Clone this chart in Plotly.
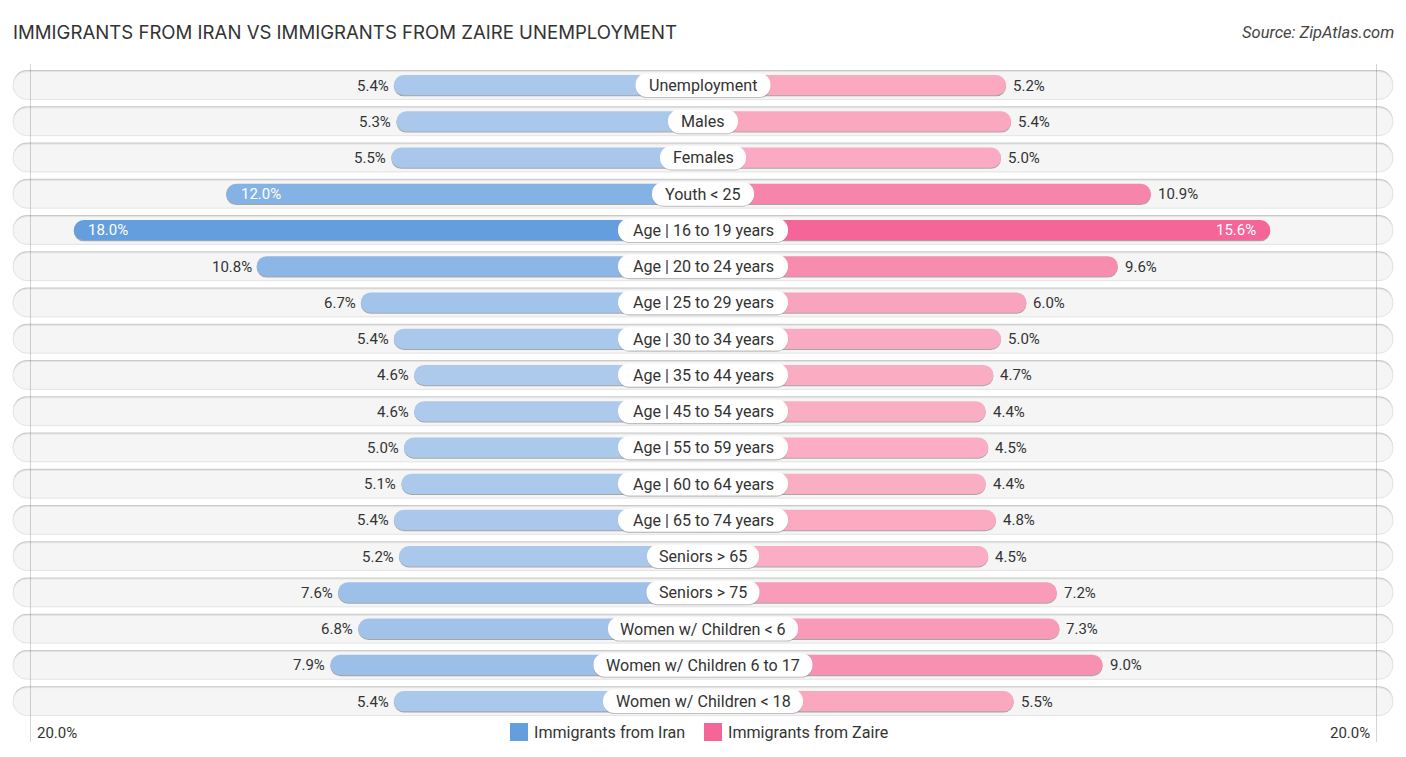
import plotly.graph_objects as go

categories = ["Unemployment", "Males", "Females", "Youth < 25", "Age | 16 to 19 years",
              "Age | 20 to 24 years", "Age | 25 to 29 years", "Age | 30 to 34 years",
              "Age | 35 to 44 years", "Age | 45 to 54 years", "Age | 55 to 59 years",
              "Age | 60 to 64 years", "Age | 65 to 74 years", "Seniors > 65", "Seniors > 75",
              "Women w/ Children < 6", "Women w/ Children 6 to 17", "Women w/ Children < 18"]
iran = [5.4, 5.3, 5.5, 12.0, 18.0, 10.8, 6.7, 5.4, 4.6, 4.6, 5.0, 5.1, 5.4, 5.2, 7.6, 6.8, 7.9, 5.4]
zaire = [5.2, 5.4, 5.0, 10.9, 15.6, 9.6, 6.0, 5.0, 4.7, 4.4, 4.5, 4.4, 4.8, 4.5, 7.2, 7.3, 9.0, 5.5]
name_a = "Immigrants from Iran"
name_b = "Immigrants from Zaire"
color_a = "#659ede"
color_b = "#f56597"

# layout constants
W, H = 1406, 757
ROW0, PITCH = 85.5, 36.24
PX_PER_UNIT = 25.4
GAP_LEFT = 172 / PX_PER_UNIT    # axis zero sits this far from the centre line
GAP_RIGHT = 171 / PX_PER_UNIT
pill_half = [67.5, 35, 43, 51, 85, 85, 85, 85, 85, 85, 85, 85, 85, 56, 56.5, 95, 109.5, 100]
TEXT = "#333333"
FONT = "Roboto"
n = len(categories)
half_units = (W / 2) / PX_PER_UNIT

fig = go.Figure()

# background tracks (full-width px axis)
fig.add_trace(go.Bar(y=categories, x=[1380] * n, base=[-690] * n, orientation="h", xaxis="x", yaxis="y",
                     width=0.79, offset=-0.425, marker=dict(color="#c9c9c9", cornerradius=14, line_width=0),
                     showlegend=False, hoverinfo="skip"))
fig.add_trace(go.Bar(y=categories, x=[1380] * n, base=[-690] * n, orientation="h", xaxis="x", yaxis="y",
                     width=0.77, offset=-0.385, marker=dict(color="#f5f5f5", cornerradius=14,
                     line=dict(color="#e4e4e4", width=1)), showlegend=False, hoverinfo="skip"))


def pair(vals, axis, scale, gap, name):
    xs = [v + gap for v in vals]
    base = [-gap] * n
    fig.add_trace(go.Bar(y=categories, x=xs, base=base, orientation="h", xaxis=axis, yaxis="y",
                         width=0.56, offset=-0.26, marker=dict(color="rgba(70,70,70,0.45)", cornerradius=10, line_width=0),
                         showlegend=False, hoverinfo="skip"))
    fig.add_trace(go.Bar(y=categories, x=xs, base=base, orientation="h", xaxis=axis, yaxis="y", name=name,
                         width=0.56, offset=-0.29,
                         marker=dict(color=vals, colorscale=scale, cmin=4.4, cmax=max(vals), cornerradius=10, line_width=0),
                         showlegend=False, hovertemplate="%{y}: %{customdata}%<extra></extra>", customdata=vals))


pair(iran, "x2", [[0, "#aecbec"], [1, color_a]], GAP_LEFT, name_a)
pair(zaire, "x3", [[0, "#faaec4"], [1, color_b]], GAP_RIGHT, name_b)

# label pills (px axis on top)
fig.add_trace(go.Bar(y=categories, x=[2 * p for p in pill_half], base=[-p for p in pill_half], orientation="h",
                     xaxis="x4", yaxis="y", width=0.645, offset=-0.30,
                     marker=dict(color="rgba(90,90,90,0.35)", cornerradius=11.5, line_width=0),
                     showlegend=False, hoverinfo="skip"))
fig.add_trace(go.Bar(y=categories, x=[2 * p for p in pill_half], base=[-p for p in pill_half], orientation="h",
                     xaxis="x4", yaxis="y", width=0.645, offset=-0.33,
                     marker=dict(color="#ffffff", cornerradius=11.5, line_width=0),
                     showlegend=False, hoverinfo="skip"))

ann = []
for i, c in enumerate(categories):
    ann.append(dict(x=0, y=c, xref="x4", yref="y", text=c.replace("<", "&lt;"), showarrow=False,
                    font=dict(family=FONT, size=16.1, color=TEXT), xanchor="center", yanchor="middle"))
    for vals, ref, sign, out in ((iran, "x2", -1, 3), (zaire, "x3", 1, 5)):
        v = vals[i]
        inside = v > 11.5
        shift = (-12.5 if inside else out) * sign
        anchor = ("left" if sign < 0 else "right") if inside else ("right" if sign < 0 else "left")
        ann.append(dict(x=v, y=c, xref=ref, yref="y", text=f"{v:.1f}%", showarrow=False, xshift=shift,
                        xanchor=anchor, yanchor="middle",
                        font=dict(family=FONT, size=15, color="#ffffff" if inside else TEXT)))
for txt, px in (("20.0%", 35), ("20.0%", 1372)):
    ann.append(dict(x=px / W, y=1 - 733 / H, xref="paper", yref="paper", text=txt, showarrow=False,
                    xanchor="left" if px < 700 else "right", yanchor="middle",
                    font=dict(family=FONT, size=15, color=TEXT)))
ann.append(dict(x=1396 / W, y=1 - 32 / H, xref="paper", yref="paper", text="<i>Source: ZipAtlas.com</i>",
                showarrow=False, xanchor="right", yanchor="middle", font=dict(family=FONT, size=16.5, color="#444444")))

shapes = [dict(type="line", xref="paper", yref="paper", x0=px / W, x1=px / W, y0=1 - 64 / H, y1=1 - 742 / H,
               line=dict(color="rgba(0,0,0,0.17)", width=1), layer="above") for px in (30.5, 1376.5)]

# legend swatches and labels
for nm, col, x0 in ((name_a, color_a, 510), (name_b, color_b, 704)):
    shapes.append(dict(type="rect", xref="paper", yref="paper", x0=x0 / W, x1=(x0 + 18) / W,
                       y0=1 - 741 / H, y1=1 - 723 / H, fillcolor=col, line_width=0, layer="above"))
    ann.append(dict(x=(x0 + 22) / W, y=1 - 732 / H, xref="paper", yref="paper", text=nm, showarrow=False,
                    xanchor="left", yanchor="middle", font=dict(family=FONT, size=16.1, color=TEXT)))

hidden = dict(visible=False, fixedrange=True)
fig.update_layout(
    width=W, height=H, margin=dict(l=0, r=0, t=0, b=0, pad=0), paper_bgcolor="white", plot_bgcolor="rgba(0,0,0,0)",
    barmode="overlay", font=dict(family=FONT, color=TEXT), showlegend=False,
    title=dict(text="IMMIGRANTS FROM IRAN VS IMMIGRANTS FROM ZAIRE UNEMPLOYMENT", x=13 / W, xanchor="left",
               y=1 - 32 / H, yanchor="middle", font=dict(family="Inter", size=18.6, color="#333333")),
    xaxis=dict(domain=[0, 1], range=[-W / 2, W / 2], **hidden),
    xaxis2=dict(domain=[0, 0.5], range=[half_units - GAP_LEFT, -GAP_LEFT], anchor="y", **hidden),
    xaxis3=dict(domain=[0.5, 1], range=[-GAP_RIGHT, half_units - GAP_RIGHT], anchor="y", **hidden),
    xaxis4=dict(domain=[0, 1], range=[-W / 2, W / 2], anchor="y", **hidden),
    yaxis=dict(domain=[0, 1], range=[(H - ROW0) / PITCH, -ROW0 / PITCH], type="category",
               categoryorder="array", categoryarray=categories, **hidden),
    annotations=ann, shapes=shapes,
)
fig.write_html("out.html", post_script="document.body.style.margin='0';", config=dict(displayModeBar=False))
